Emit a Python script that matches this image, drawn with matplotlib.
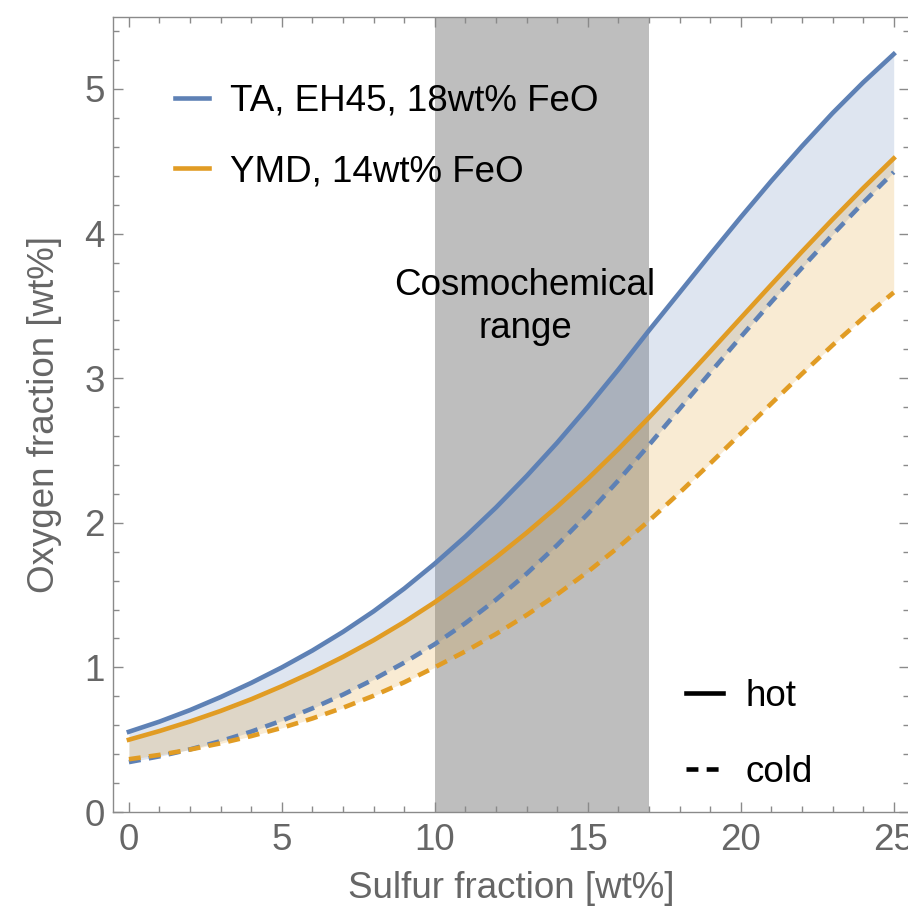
import numpy as np
import matplotlib
matplotlib.use("Agg")
import matplotlib.pyplot as plt
from matplotlib.lines import Line2D
from matplotlib.ticker import MultipleLocator

plt.rcParams['font.family'] = ['Liberation Sans', 'DejaVu Sans']

# sulfur fraction [wt%]
sulfur = np.arange(0, 26)

# oxygen fraction [wt%]
ta_hot = [0.555, 0.625, 0.705, 0.795, 0.893, 1.000, 1.117, 1.246, 1.388, 1.545,
          1.718, 1.905, 2.106, 2.323, 2.554, 2.801, 3.060, 3.330, 3.592, 3.855,
          4.113, 4.364, 4.604, 4.833, 5.045, 5.241]
ta_cold = [0.345, 0.385, 0.433, 0.490, 0.556, 0.632, 0.717, 0.812, 0.917, 1.033,
           1.161, 1.306, 1.468, 1.648, 1.846, 2.061, 2.293, 2.538, 2.788, 3.038,
           3.285, 3.527, 3.763, 3.992, 4.213, 4.425]
ymd_hot = [0.500, 0.560, 0.626, 0.699, 0.780, 0.870, 0.967, 1.073, 1.188, 1.314,
           1.451, 1.601, 1.761, 1.931, 2.112, 2.304, 2.510, 2.728, 2.954, 3.184,
           3.416, 3.647, 3.875, 4.098, 4.314, 4.520]
ymd_cold = [0.365, 0.395, 0.432, 0.475, 0.525, 0.582, 0.647, 0.721, 0.804, 0.897,
            1.001, 1.111, 1.231, 1.362, 1.505, 1.661, 1.831, 2.014, 2.208, 2.410,
            2.617, 2.825, 3.030, 3.228, 3.416, 3.593]

cosmo_range = (10, 17)

blue = '#5e81b5'
orange = '#e19c24'
grey_txt = '#666666'
grey_ax = '#8a8a8a'
fs = 26.5
lw = 3.3
dash = (0, (2.6, 1.8))

fig = plt.figure(figsize=(9.08, 9.08), dpi=100)
ax = fig.add_axes([113/908, 96/908, 796/908, 795.3/908])

ax.axvspan(*cosmo_range, color='#bebebe', lw=0, zorder=0)

ax.fill_between(sulfur, ta_hot, ta_cold, color=blue, alpha=0.2, lw=0, zorder=1)
ax.fill_between(sulfur, ymd_hot, ymd_cold, color=orange, alpha=0.2, lw=0, zorder=1)

ax.plot(sulfur, ta_cold, color=blue, lw=lw, ls=dash, zorder=3)
ax.plot(sulfur, ymd_cold, color=orange, lw=lw, ls=dash, zorder=3)
ax.plot(sulfur, ta_hot, color=blue, lw=lw, zorder=4)
ax.plot(sulfur, ymd_hot, color=orange, lw=lw, zorder=4)

ax.text(12.95, 3.573, 'Cosmochemical', ha='center', va='baseline', fontsize=fs, zorder=5)
ax.text(12.95, 3.276, 'range', ha='center', va='baseline', fontsize=fs, zorder=5)

ax.set_xlim(-0.52, 25.5)
ax.set_ylim(0, 5.5)
ax.xaxis.set_major_locator(MultipleLocator(5))
ax.xaxis.set_minor_locator(MultipleLocator(1))
ax.yaxis.set_major_locator(MultipleLocator(1))
ax.yaxis.set_minor_locator(MultipleLocator(0.2))
ax.tick_params(which='both', direction='in', top=True, right=True,
               color=grey_ax, width=1.0, labelcolor=grey_txt, labelsize=fs)
ax.tick_params(which='major', length=7.2)
ax.tick_params(which='minor', length=4.3)
ax.tick_params(axis='x', pad=8)
ax.tick_params(axis='y', pad=6)
for s in ax.spines.values():
    s.set_color(grey_ax)
    s.set_linewidth(1.0)

ax.set_xlabel('Sulfur fraction [wt%]', fontsize=fs, color=grey_txt, labelpad=9)
ax.set_ylabel('Oxygen fraction [wt%]', fontsize=fs, color=grey_txt, labelpad=16)

h1 = [Line2D([], [], color=blue, lw=lw), Line2D([], [], color=orange, lw=lw)]
leg1 = ax.legend(h1, ['TA, EH45, 18wt% FeO', 'YMD, 14wt% FeO'], loc='upper left',
                 bbox_to_anchor=(0.078, 0.916), frameon=False, fontsize=fs,
                 handlelength=0.92, handletextpad=0.57, labelspacing=0.97,
                 borderpad=0, borderaxespad=0)
ax.add_artist(leg1)

h2 = [Line2D([], [], color='black', lw=lw), Line2D([], [], color='black', lw=lw, ls=dash)]
ax.legend(h2, ['hot', 'cold'], loc='upper left', bbox_to_anchor=(0.72, 0.167),
          frameon=False, fontsize=fs, handlelength=1.0, handletextpad=0.6,
          labelspacing=1.1, borderpad=0, borderaxespad=0)

fig.savefig('out.png', dpi=100)
